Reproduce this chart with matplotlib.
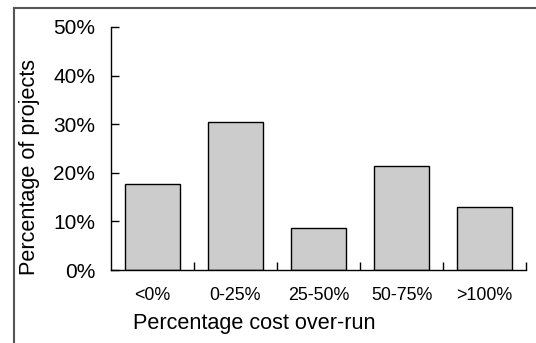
import matplotlib.pyplot as plt
from matplotlib.lines import Line2D
from matplotlib.ticker import FixedLocator, NullFormatter

categories = ["<0%", "0-25%", "25-50%", "50-75%", ">100%"]
share = [17.6, 30.5, 8.6, 21.5, 13.0]
y_ticks = [0, 10, 20, 30, 40, 50]
y_labels = ["0%", "10%", "20%", "30%", "40%", "50%"]

plt.rcParams["font.family"] = ["Liberation Sans", "DejaVu Sans"]

W, H = 536, 343
fig = plt.figure(figsize=(W / 100, H / 100), dpi=100)
ax = fig.add_axes([111 / W, (H - 270) / H, 415 / W, 243 / H])

x = list(range(len(categories)))
ax.bar(x, share, width=0.66, color="#cccccc", edgecolor="black", linewidth=1)

ax.set_xlim(-0.5, len(categories) - 0.5)
ax.set_ylim(0, 50)
ax.set_yticks(y_ticks)
ax.set_yticklabels(y_labels)
ax.set_xticks(x)
ax.set_xticklabels(categories)
ax.xaxis.set_minor_locator(FixedLocator([i + 0.5 for i in x]))
ax.xaxis.set_minor_formatter(NullFormatter())

ax.tick_params(axis="x", which="major", length=0, pad=12.5, labelsize=12.9)
ax.tick_params(axis="x", which="minor", direction="in", length=6, width=1)
ax.tick_params(axis="y", direction="in", length=6, width=1, pad=11.5, labelsize=15)

for side in ("top", "right"):
    ax.spines[side].set_visible(False)
for side in ("left", "bottom"):
    ax.spines[side].set_linewidth(1)

fig.text(30 / W, 1 - 167 / H, "Percentage of projects", rotation=90,
         ha="center", va="center", fontsize=15.6)
fig.text(254 / W, 1 - 324 / H, "Percentage cost over-run",
         ha="center", va="center", fontsize=15.6)

# outer frame (top and left edges visible)
fig.add_artist(Line2D([13.5 / W, 1], [1 - 7.5 / H, 1 - 7.5 / H],
                      transform=fig.transFigure, color="#555555", lw=1.5))
fig.add_artist(Line2D([13.5 / W, 13.5 / W], [0, 1 - 7.5 / H],
                      transform=fig.transFigure, color="#555555", lw=1.5))

fig.savefig("out.png", dpi=100)
